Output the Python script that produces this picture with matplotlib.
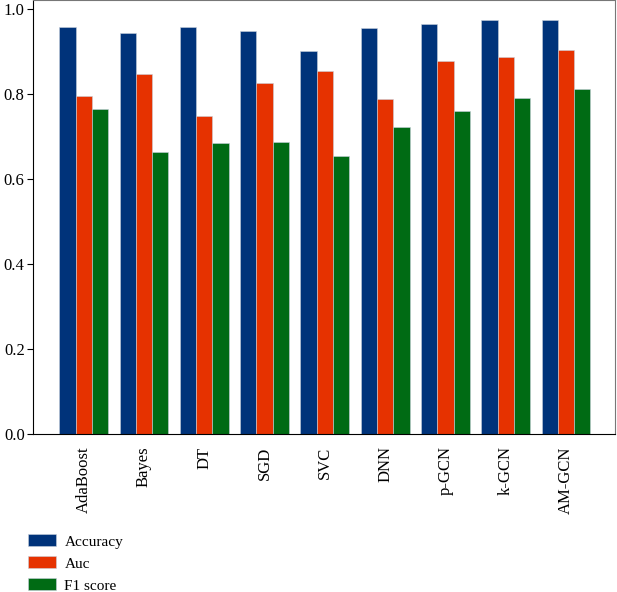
import numpy as np
import matplotlib
matplotlib.use("Agg")
import matplotlib.pyplot as plt

plt.rcParams['font.family'] = ['Liberation Serif', 'DejaVu Serif']

models = ["AdaBoost", "Bayes", "DT", "SGD", "SVC", "DNN", "p-GCN", "k-GCN", "AM-GCN"]
accuracy = [0.957, 0.943, 0.957, 0.949, 0.901, 0.954, 0.965, 0.974, 0.973]
auc = [0.796, 0.846, 0.747, 0.825, 0.854, 0.788, 0.877, 0.886, 0.904]
f1 = [0.764, 0.664, 0.684, 0.686, 0.654, 0.722, 0.759, 0.791, 0.811]

series = [("Accuracy", accuracy, "#00337a"),
          ("Auc", auc, "#e63200"),
          ("F1 score", f1, "#006b14")]

fig = plt.figure(figsize=(6.17, 5.92), dpi=100)
ax = fig.add_axes([0.0535, 0.267, 0.944, 0.733])

x = np.arange(len(models))
w = 0.27
for i, (name, vals, col) in enumerate(series):
    ax.bar(x + (i - 1) * w, vals, w, color=col, label=name,
           edgecolor="#c8d0dc", linewidth=0.4)

ax.set_xlim(-0.84, 8.82)
ax.set_ylim(0, 1.021)
ax.set_yticks([0.0, 0.2, 0.4, 0.6, 0.8, 1.0])
ax.set_yticklabels(["0.0", "0.2", "0.4", "0.6", "0.8", "1.0"])
ax.set_xticks(x)
ax.set_xticklabels(models, rotation=90)
ax.tick_params(axis="x", length=0, pad=9, labelsize=12)
ax.tick_params(axis="y", length=4, pad=2, labelsize=12)
for s in ["top", "right"]:
    ax.spines[s].set_color("#777777")

fig.legend(loc="upper left", bbox_to_anchor=(0.035, 0.108), frameon=False,
           fontsize=11, handlelength=1.85, handleheight=0.85,
           labelspacing=0.5, handletextpad=0.55, borderaxespad=0)

fig.savefig("out.png", dpi=100)
